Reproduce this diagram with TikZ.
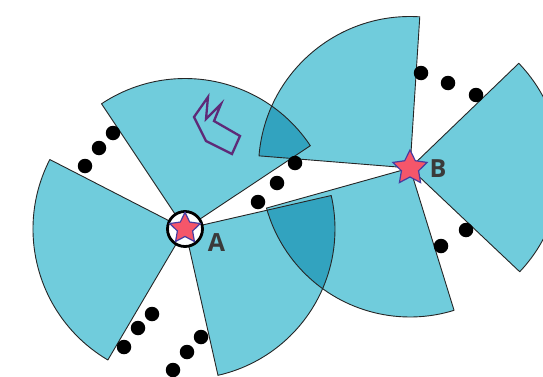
\documentclass[tikz,border=0pt]{standalone}
\usepackage{fontspec}
\setmainfont{Open Sans}
\usetikzlibrary{shapes.geometric}
\definecolor{wedge}{RGB}{112,204,220}
\definecolor{overlapc}{RGB}{50,163,191}
\definecolor{markerred}{RGB}{245,86,106}
\definecolor{markerblue}{RGB}{72,60,160}
\definecolor{pathpurple}{RGB}{94,42,120}
\definecolor{labelgrey}{RGB}{58,58,58}
\tikzset{
  wedgeline/.style={draw=black!85,line width=0.9pt,line join=round},
  dot/.style={circle,fill=black,inner sep=0pt,minimum size=14.5pt},
  starmark/.style={star,star points=5,star point ratio=2.0,fill=markerred,draw=markerblue,line width=1.2pt,inner sep=0pt,minimum size=#1},
  ring/.style={circle,fill=white,draw=black,line width=2.8pt,inner sep=0pt,minimum size=35pt},
  lab/.style={text=labelgrey,font=\fontsize{25}{25}\selectfont\bfseries,inner sep=0pt}
}
\newcommand{\wedgepath}[4]{(#1) -- ++(#2:#4pt) arc[start angle=#2,end angle=#3,radius=#4pt] -- cycle}
\begin{document}
\begin{tikzpicture}[x=1pt,y=1pt]
\useasboundingbox (0,0) rectangle (543,376);
\clip (0,0) rectangle (543,376);
\coordinate (cA) at (185,147);
\coordinate (cB) at (410,208);
\fill[wedge] \wedgepath{cA}{33.6}{123.7}{150.5};
\fill[wedge] \wedgepath{cA}{152.8}{239.5}{152};
\fill[wedge] \wedgepath{cA}{-77.3}{12.9}{150};
\fill[wedge] \wedgepath{cB}{86.3}{175.4}{151.5};
\fill[wedge] \wedgepath{cB}{-43.4}{43.9}{151};
\fill[wedge] \wedgepath{cB}{195.6}{287.2}{149};
\begin{scope}
  \clip \wedgepath{cA}{33.6}{123.7}{150.5};
  \fill[overlapc] \wedgepath{cB}{86.3}{175.4}{151.5};
\end{scope}
\begin{scope}
  \clip \wedgepath{cA}{-77.3}{12.9}{150};
  \fill[overlapc] \wedgepath{cB}{195.6}{287.2}{149};
\end{scope}
\path[wedgeline] \wedgepath{cA}{33.6}{123.7}{150.5};
\path[wedgeline] \wedgepath{cA}{152.8}{239.5}{152};
\path[wedgeline] \wedgepath{cA}{-77.3}{12.9}{150};
\path[wedgeline] \wedgepath{cB}{86.3}{175.4}{151.5};
\path[wedgeline] \wedgepath{cB}{-43.4}{43.9}{151};
\path[wedgeline] \wedgepath{cB}{195.6}{287.2}{149};
\foreach \n/\x/\y in {a/85/210,b/99/228,c/113/243,d/124/29,e/138/48,f/152/62,g/173/6,h/187/24,i/201/39,j/258/174,k/277/193,l/295/213,m/421/303,n/448/293,o/476/281,p/441/130,q/466/146}
  \node[dot] (\n) at (\x,\y) {};
\draw[pathpurple,line width=2.3pt,line join=miter] (208,279) -- (206,257) -- (221,272) -- (214,255) -- (240,240) -- (232,222) -- (206,235) -- (194,259) -- cycle;
\node[ring] (ringA) at (cA) {};
\node[starmark=32pt] (starA) at (185,147.5) {};
\node[starmark=36pt] (starB) at (cB) {};
\node[lab] (labA) at (216.5,133) {A};
\node[lab] (labB) at (438,207) {B};
\end{tikzpicture}
\end{document}
